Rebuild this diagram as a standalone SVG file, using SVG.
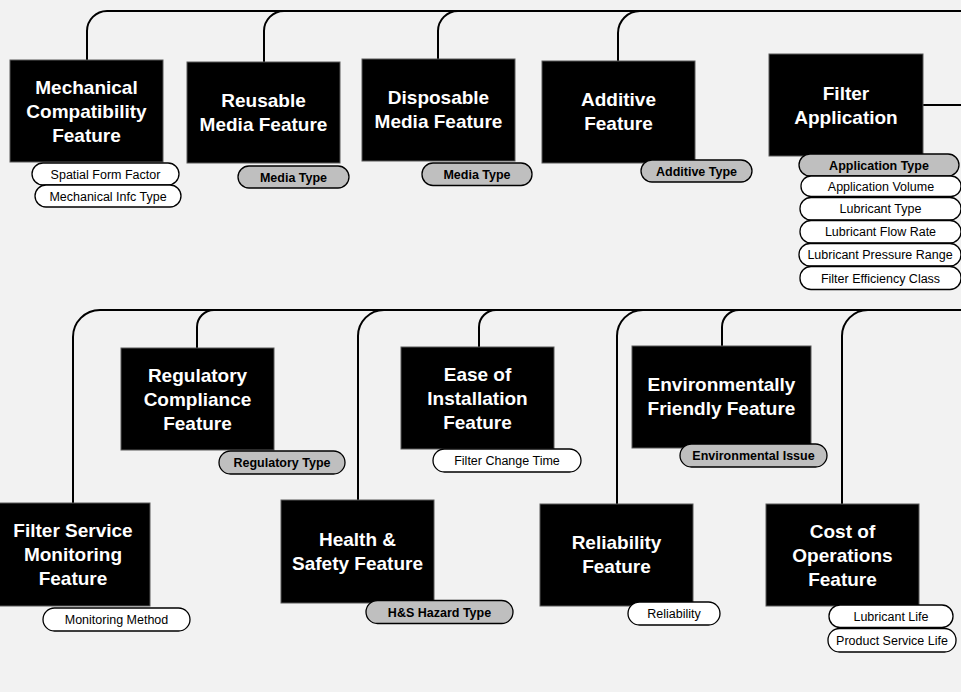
<svg xmlns="http://www.w3.org/2000/svg" width="961" height="692" viewBox="0 0 961 692">
<style>
.bg{fill:#f2f2f2}
.box{fill:#000;stroke:#595959;stroke-width:1}
.nt{font-family:"Liberation Sans",Arial,sans-serif;font-weight:bold;font-size:19px;fill:#fff;text-anchor:middle}
.pw{fill:#fff;stroke:#000;stroke-width:1.3}
.pg{fill:#bfbfbf;stroke:#000;stroke-width:1.3}
.pt{font-family:"Liberation Sans",Arial,sans-serif;font-size:12.5px;fill:#000;text-anchor:middle}
.pb{font-weight:bold}
.con{fill:none;stroke:#000;stroke-width:2}
</style>
<rect class="bg" x="0" y="0" width="961" height="692"/>
<g id="connectors">
<path class="con" d="M87 60V31A20 20 0 0 1 107 11H961"/>
<path class="con" d="M264 62V31A20 20 0 0 1 284 11"/>
<path class="con" d="M438 59V31A20 20 0 0 1 458 11"/>
<path class="con" d="M618 61V33A22 22 0 0 1 640 11"/>
<path class="con" d="M923 105H961"/>
<path class="con" d="M73 503V337A27 27 0 0 1 100 310H961"/>
<path class="con" d="M197 348V327A17 17 0 0 1 214 310"/>
<path class="con" d="M358 500V336A26 26 0 0 1 384 310"/>
<path class="con" d="M479 347V327A17 17 0 0 1 496 310"/>
<path class="con" d="M617 504V336A26 26 0 0 1 643 310"/>
<path class="con" d="M722 346V327A17 17 0 0 1 739 310"/>
<path class="con" d="M842 504V336A26 26 0 0 1 868 310"/>
</g>
<g id="mechanical">
<rect class="box" x="10" y="60" width="153" height="102"/>
<text class="nt" x="86.5" y="93.8">Mechanical</text>
<text class="nt" x="86.5" y="117.8">Compatibility</text>
<text class="nt" x="86.5" y="141.8">Feature</text>
<rect class="pw" x="32" y="163" width="147" height="22" rx="11"/>
<text class="pt" x="105.5" y="178.5">Spatial Form Factor</text>
<rect class="pw" x="35" y="185" width="146" height="22" rx="11"/>
<text class="pt" x="108" y="200.5">Mechanical Infc Type</text>
</g>
<g id="reusable">
<rect class="box" x="187" y="62" width="153" height="101"/>
<text class="nt" x="263.5" y="107.3">Reusable</text>
<text class="nt" x="263.5" y="131.3">Media Feature</text>
<rect class="pg" x="238" y="166" width="111" height="22" rx="11"/>
<text class="pt pb" x="293.5" y="181.5">Media Type</text>
</g>
<g id="disposable">
<rect class="box" x="362" y="59" width="153" height="102"/>
<text class="nt" x="438.5" y="103.8">Disposable</text>
<text class="nt" x="438.5" y="127.8">Media Feature</text>
<rect class="pg" x="422" y="163" width="110" height="22.5" rx="11"/>
<text class="pt pb" x="477" y="178.7">Media Type</text>
</g>
<g id="additive">
<rect class="box" x="542" y="61" width="153" height="102"/>
<text class="nt" x="618.5" y="105.8">Additive</text>
<text class="nt" x="618.5" y="129.8">Feature</text>
<rect class="pg" x="641" y="160" width="111" height="22" rx="11"/>
<text class="pt pb" x="696.5" y="175.5">Additive Type</text>
</g>
<g id="filter-application">
<rect class="box" x="769" y="54" width="154" height="102"/>
<text class="nt" x="846" y="99.8">Filter</text>
<text class="nt" x="846" y="123.8">Application</text>
<rect class="pg" x="799" y="154" width="160" height="22" rx="11"/>
<text class="pt pb" x="879" y="169.5">Application Type</text>
<rect class="pw" x="801" y="176" width="160" height="20.5" rx="10"/>
<text class="pt" x="881" y="190.7">Application Volume</text>
<rect class="pw" x="800" y="197.5" width="161" height="22.5" rx="11"/>
<text class="pt" x="880.5" y="213.2">Lubricant Type</text>
<rect class="pw" x="800" y="220.5" width="161" height="22.5" rx="11"/>
<text class="pt" x="880.5" y="236.2">Lubricant Flow Rate</text>
<rect class="pw" x="799" y="243.5" width="162" height="22.5" rx="11"/>
<text class="pt" x="880" y="259.2">Lubricant Pressure Range</text>
<rect class="pw" x="800" y="266.5" width="161" height="23" rx="11"/>
<text class="pt" x="880.5" y="282.5">Filter Efficiency Class</text>
</g>
<g id="regulatory">
<rect class="box" x="121" y="348" width="153" height="102"/>
<text class="nt" x="197.5" y="381.8">Regulatory</text>
<text class="nt" x="197.5" y="405.8">Compliance</text>
<text class="nt" x="197.5" y="429.8">Feature</text>
<rect class="pg" x="219" y="451" width="126" height="23" rx="11.5"/>
<text class="pt pb" x="282" y="467">Regulatory Type</text>
</g>
<g id="ease-of-installation">
<rect class="box" x="401" y="347" width="153" height="102"/>
<text class="nt" x="477.5" y="380.8">Ease of</text>
<text class="nt" x="477.5" y="404.8">Installation</text>
<text class="nt" x="477.5" y="428.8">Feature</text>
<rect class="pw" x="433" y="449" width="148" height="23" rx="11.5"/>
<text class="pt" x="507" y="465">Filter Change Time</text>
</g>
<g id="environmentally-friendly">
<rect class="box" x="632" y="346" width="179" height="102"/>
<text class="nt" x="721.5" y="391.3">Environmentally</text>
<text class="nt" x="721.5" y="415.3">Friendly Feature</text>
<rect class="pg" x="680" y="444" width="147" height="23" rx="11.5"/>
<text class="pt pb" x="753.5" y="460">Environmental Issue</text>
</g>
<g id="filter-service-monitoring">
<rect class="box" x="-1" y="503" width="151" height="103"/>
<text class="nt" x="73" y="537.3">Filter Service</text>
<text class="nt" x="73" y="561.3">Monitoring</text>
<text class="nt" x="73" y="585.3">Feature</text>
<rect class="pw" x="43" y="608" width="147" height="23" rx="11.5"/>
<text class="pt" x="116.5" y="624">Monitoring Method</text>
</g>
<g id="health-safety">
<rect class="box" x="281" y="500" width="153" height="103"/>
<text class="nt" x="357.5" y="545.8">Health &amp;</text>
<text class="nt" x="357.5" y="569.8">Safety Feature</text>
<rect class="pg" x="366" y="600.5" width="147" height="23" rx="11.5"/>
<text class="pt pb" x="439.5" y="616.5">H&amp;S Hazard Type</text>
</g>
<g id="reliability">
<rect class="box" x="540" y="504" width="153" height="102"/>
<text class="nt" x="616.5" y="548.8">Reliability</text>
<text class="nt" x="616.5" y="572.8">Feature</text>
<rect class="pw" x="628" y="602" width="92" height="23" rx="11.5"/>
<text class="pt" x="674" y="618">Reliability</text>
</g>
<g id="cost-of-operations">
<rect class="box" x="766" y="504" width="153" height="102"/>
<text class="nt" x="842.5" y="537.8">Cost of</text>
<text class="nt" x="842.5" y="561.8">Operations</text>
<text class="nt" x="842.5" y="585.8">Feature</text>
<rect class="pw" x="829" y="605" width="124" height="22.5" rx="11"/>
<text class="pt" x="891" y="620.7">Lubricant Life</text>
<rect class="pw" x="828" y="628.5" width="128" height="23.5" rx="11.5"/>
<text class="pt" x="892" y="644.7">Product Service Life</text>
</g>
</svg>
